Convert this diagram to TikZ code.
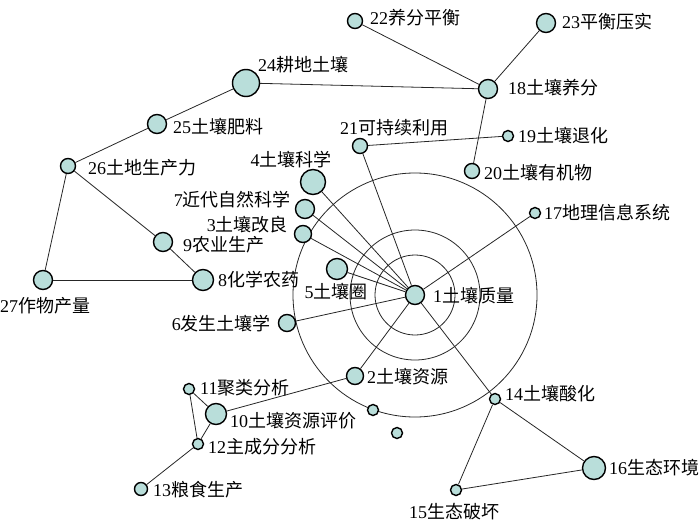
\documentclass[tikz,border=0pt]{standalone}
\usepackage{fontspec}
\setmainfont{Liberation Serif}
\newfontfamily\cjk{Noto Sans CJK SC}
\definecolor{dotfill}{RGB}{185,222,218}
\newcommand{\lb}[2]{#1{\cjk #2}}
\tikzset{
	dot/.style={circle, draw=black, line width=1.4pt, fill=dotfill, inner sep=0pt},
	lbl/.style={inner sep=0pt, font=\fontsize{18}{20}\selectfont},
	link/.style={line width=0.8pt, black!85}
}
\begin{document}
\begin{tikzpicture}[x=1pt, y=-1pt]
	\useasboundingbox (0,0) rectangle (700,524);
	% rings round the centre
	\coordinate (c) at (415,295);
	\draw[link] (c) circle (40pt);
	\draw[link] (c) circle (65pt);
	\draw[link] (c) circle (122pt);
	% dots
	\node[dot, minimum size=19pt] (n1) at (c) {};
	\node[dot, minimum size=17pt] (n2) at (355,376) {};
	\node[dot, minimum size=17pt] (n3) at (303,234) {};
	\node[dot, minimum size=25pt] (n4) at (313,182) {};
	\node[dot, minimum size=21pt] (n5) at (337,269) {};
	\node[dot, minimum size=17pt] (n6) at (287,323) {};
	\node[dot, minimum size=19pt] (n7) at (305,209) {};
	\node[dot, minimum size=21pt] (n8) at (203,280) {};
	\node[dot, minimum size=19pt] (n9) at (163,242) {};
	\node[dot, minimum size=21pt] (n10) at (216,414) {};
	\node[dot, minimum size=11pt] (n11) at (189,389) {};
	\node[dot, minimum size=11pt] (n12) at (198,444) {};
	\node[dot, minimum size=13pt] (n13) at (141,489) {};
	\node[dot, minimum size=11pt] (n14) at (495,399) {};
	\node[dot, minimum size=11pt] (n15) at (456,490) {};
	\node[dot, minimum size=23pt] (n16) at (594,468) {};
	\node[dot, minimum size=11pt] (n17) at (535,213) {};
	\node[dot, minimum size=19pt] (n18) at (488,89) {};
	\node[dot, minimum size=11pt] (n19) at (508,136) {};
	\node[dot, minimum size=15pt] (n20) at (472,171) {};
	\node[dot, minimum size=15pt] (n21) at (360,146) {};
	\node[dot, minimum size=15pt] (n22) at (355,21) {};
	\node[dot, minimum size=19pt] (n23) at (546,23) {};
	\node[dot, minimum size=27pt] (n24) at (246,83) {};
	\node[dot, minimum size=19pt] (n25) at (157,124) {};
	\node[dot, minimum size=15pt] (n26) at (68,166) {};
	\node[dot, minimum size=19pt] (n27) at (43,280) {};
	\node[dot, minimum size=11pt] (n28) at (373,410) {};
	\node[dot, minimum size=11pt] (n29) at (397,433) {};
	% links
	\draw[link] (n1) -- (n2);
	\draw[link] (n1) -- (n3);
	\draw[link] (n1) -- (n4);
	\draw[link] (n1) -- (n5);
	\draw[link] (n1) -- (n6);
	\draw[link] (n1) -- (n7);
	\draw[link] (n1) -- (n14);
	\draw[link] (n1) -- (n17);
	\draw[link] (n1) -- (n21);
	\draw[link] (n2) -- (n10);
	\draw[link] (n10) -- (n11);
	\draw[link] (n10) -- (n12);
	\draw[link] (n11) -- (n12);
	\draw[link] (n12) -- (n13);
	\draw[link] (n14) -- (n15);
	\draw[link] (n14) -- (n16);
	\draw[link] (n15) -- (n16);
	\draw[link] (n21) -- (n19);
	\draw[link] (n18) -- (n20);
	\draw[link] (n18) -- (n22);
	\draw[link] (n18) -- (n23);
	\draw[link] (n18) -- (n24);
	\draw[link] (n24) -- (n25);
	\draw[link] (n25) -- (n26);
	\draw[link] (n26) -- (n9);
	\draw[link] (n9) -- (n8);
	\draw[link] (n26) -- (n27);
	\draw[link] (n27) -- (n8);
	% labels
	\node[lbl, anchor=west] (t1) at (433,296) {\lb{1}{土壤质量}};
	\node[lbl, anchor=west] (t2) at (367,377) {\lb{2}{土壤资源}};
	\node[lbl, anchor=east] (t3) at (288,225) {\lb{3}{土壤改良}};
	\node[lbl] (t4) at (291,160) {\lb{4}{土壤科学}};
	\node[lbl] (t5) at (336,292) {\lb{5}{土壤圈}};
	\node[lbl, anchor=east] (t6) at (271,324) {\lb{6}{发生土壤学}};
	\node[lbl, anchor=east] (t7) at (291,200) {\lb{7}{近代自然科学}};
	\node[lbl, anchor=west] (t8) at (218,280) {\lb{8}{化学农药}};
	\node[lbl, anchor=west] (t9) at (183,245) {\lb{9}{农业生产}};
	\node[lbl, anchor=west] (t10) at (230,421) {\lb{10}{土壤资源评价}};
	\node[lbl, anchor=west] (t11) at (200,388) {\lb{11}{聚类分析}};
	\node[lbl, anchor=west] (t12) at (208,447) {\lb{12}{主成分分析}};
	\node[lbl, anchor=west] (t13) at (153,490) {\lb{13}{粮食生产}};
	\node[lbl, anchor=west] (t14) at (505,394) {\lb{14}{土壤酸化}};
	\node[lbl] (t15) at (454,512) {\lb{15}{生态破坏}};
	\node[lbl, anchor=west] (t16) at (609,468) {\lb{16}{生态环境}};
	\node[lbl, anchor=west] (t17) at (544,213) {\lb{17}{地理信息系统}};
	\node[lbl, anchor=west] (t18) at (508,88) {\lb{18}{土壤养分}};
	\node[lbl, anchor=west] (t19) at (518,136) {\lb{19}{土壤退化}};
	\node[lbl, anchor=west] (t20) at (484,173) {\lb{20}{土壤有机物}};
	\node[lbl] (t21) at (394,128) {\lb{21}{可持续利用}};
	\node[lbl, anchor=west] (t22) at (370,18) {\lb{22}{养分平衡}};
	\node[lbl, anchor=west] (t23) at (562,22) {\lb{23}{平衡压实}};
	\node[lbl] (t24) at (303,65) {\lb{24}{耕地土壤}};
	\node[lbl, anchor=west] (t25) at (173,127) {\lb{25}{土壤肥料}};
	\node[lbl, anchor=west] (t26) at (88,168) {\lb{26}{土地生产力}};
	\node[lbl] (t27) at (45,306) {\lb{27}{作物产量}};
\end{tikzpicture}
\end{document}
